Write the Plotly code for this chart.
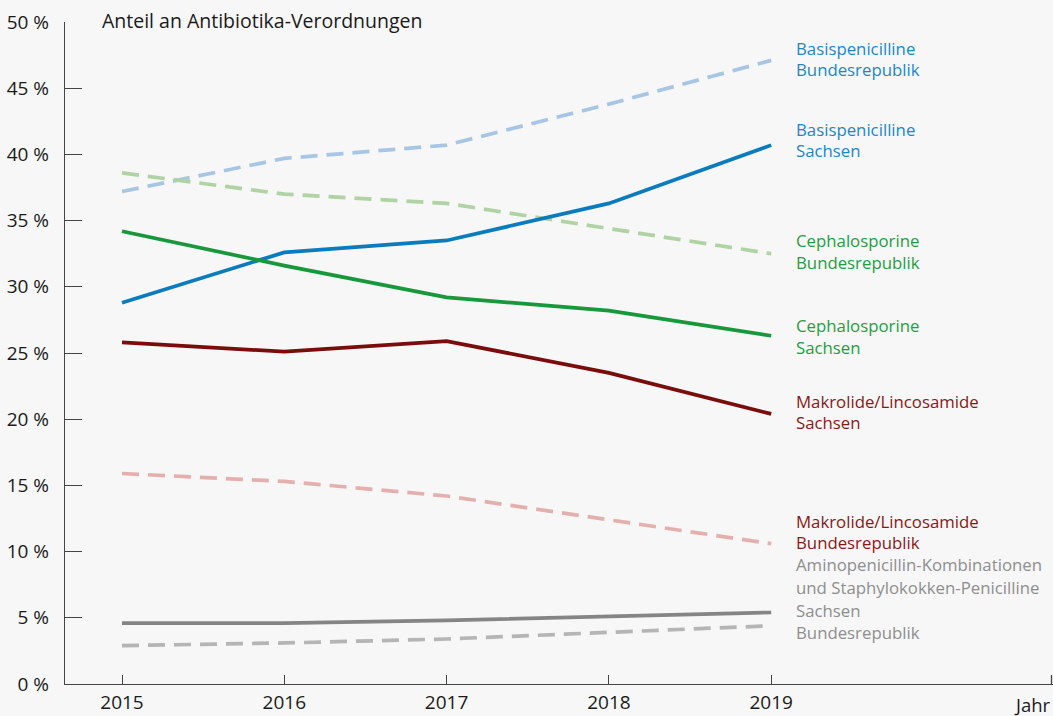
import plotly.graph_objects as go

years = [2015, 2016, 2017, 2018, 2019]
basis_bund = [37.2, 39.7, 40.7, 43.8, 47.1]
basis_sachsen = [28.8, 32.6, 33.5, 36.3, 40.7]
ceph_bund = [38.6, 37.0, 36.3, 34.4, 32.5]
ceph_sachsen = [34.2, 31.6, 29.2, 28.2, 26.3]
makro_sachsen = [25.8, 25.1, 25.9, 23.5, 20.4]
makro_bund = [15.9, 15.3, 14.2, 12.4, 10.6]
amino_sachsen = [4.6, 4.6, 4.8, 5.1, 5.4]
amino_bund = [2.9, 3.1, 3.4, 3.9, 4.4]

y_ticks = [0, 5, 10, 15, 20, 25, 30, 35, 40, 45, 50]
y_labels = [f"{v} %" for v in y_ticks]

FONT = "Open Sans"
DASH = "17px,9px"

series = [
    (basis_bund, "#a7c5e4", DASH),
    (ceph_bund, "#afd3a2", DASH),
    (makro_bund, "#e4b0ae", DASH),
    (amino_bund, "#b5b5b5", DASH),
    (basis_sachsen, "#0a7cbd", "solid"),
    (ceph_sachsen, "#17983a", "solid"),
    (makro_sachsen, "#7b0c0c", "solid"),
    (amino_sachsen, "#858585", "solid"),
]

fig = go.Figure()
for vals, col, dash in series:
    fig.add_trace(go.Scatter(x=years, y=vals, mode="lines",
                             line=dict(color=col, width=3.7, dash=dash),
                             showlegend=False, hoverinfo="skip"))

W, H = 1053, 716
ml, mr, mt, mb = 65, 0, 22, 32
pw, ph = W - ml - mr, H - mt - mb

def py(p):
    return (H - mb - p) / ph

def px(p):
    return (p - ml) / pw

labels = [
    ("Basispenicilline", 48, "#1a87c6"),
    ("Bundesrepublik", 69, "#1a87c6"),
    ("Basispenicilline", 129, "#1a87c6"),
    ("Sachsen", 150, "#1a87c6"),
    ("Cephalosporine", 241, "#1f9d42"),
    ("Bundesrepublik", 262, "#1f9d42"),
    ("Cephalosporine", 326, "#1f9d42"),
    ("Sachsen", 347, "#1f9d42"),
    ("Makrolide/Lincosamide", 401, "#8a1717"),
    ("Sachsen", 422, "#8a1717"),
    ("Makrolide/Lincosamide", 521, "#8a1717"),
    ("Bundesrepublik", 542, "#8a1717"),
    ("Aminopenicillin-Kombinationen", 564, "#8e8e8e"),
    ("und Staphylokokken-Penicilline", 587, "#8e8e8e"),
    ("Sachsen", 610, "#8e8e8e"),
    ("Bundesrepublik", 632, "#8e8e8e"),
]
annotations = []
for txt, ypix, col in labels:
    annotations.append(dict(text=txt, x=px(794), y=py(ypix), xref="paper", yref="paper",
                            xanchor="left", yanchor="middle", showarrow=False,
                            font=dict(family=FONT, size=16.8, color=col)))
annotations.append(dict(text="Anteil an Antibiotika-Verordnungen", x=px(100), y=py(21),
                        xref="paper", yref="paper", xanchor="left", yanchor="middle",
                        showarrow=False, font=dict(family=FONT, size=19.5, color="#1a1a1a")))
annotations.append(dict(text="Jahr", x=1.0, y=py(704), xref="paper", yref="paper",
                        xanchor="right", yanchor="middle", showarrow=False,
                        font=dict(family=FONT, size=18.5, color="#1a1a1a")))

shapes = [dict(type="line", xref="paper", yref="paper", x0=px(1051.5), x1=px(1051.5),
               y0=0, y1=py(675), line=dict(color="#444", width=1.3))]

fig.update_layout(
    width=W, height=H,
    margin=dict(l=ml, r=mr, t=mt, b=mb),
    paper_bgcolor="#f7f7f7", plot_bgcolor="#f7f7f7",
    font=dict(family=FONT, size=19, color="#1a1a1a"),
    annotations=annotations, shapes=shapes,
    xaxis=dict(range=[2015 - 57 / 162.3, 2015 + 931 / 162.3], tickvals=years,
               ticktext=[str(y) for y in years], ticks="inside", ticklen=9, tickwidth=1.3,
               tickcolor="#444", showline=True, linecolor="#444", linewidth=1.3,
               showgrid=False, zeroline=False, fixedrange=True, ticklabelstandoff=1),
    yaxis=dict(range=[0, 50], tickvals=y_ticks, ticktext=y_labels, ticks="inside",
               ticklen=17, tickwidth=1.3, tickcolor="#444", showline=True, linecolor="#444",
               linewidth=1.3, showgrid=False, zeroline=False, fixedrange=True,
               ticklabelstandoff=11),
)

fig.write_html("out.html", config={"displayModeBar": False},
               post_script="document.body.style.margin='0';document.body.style.overflow='hidden';")
